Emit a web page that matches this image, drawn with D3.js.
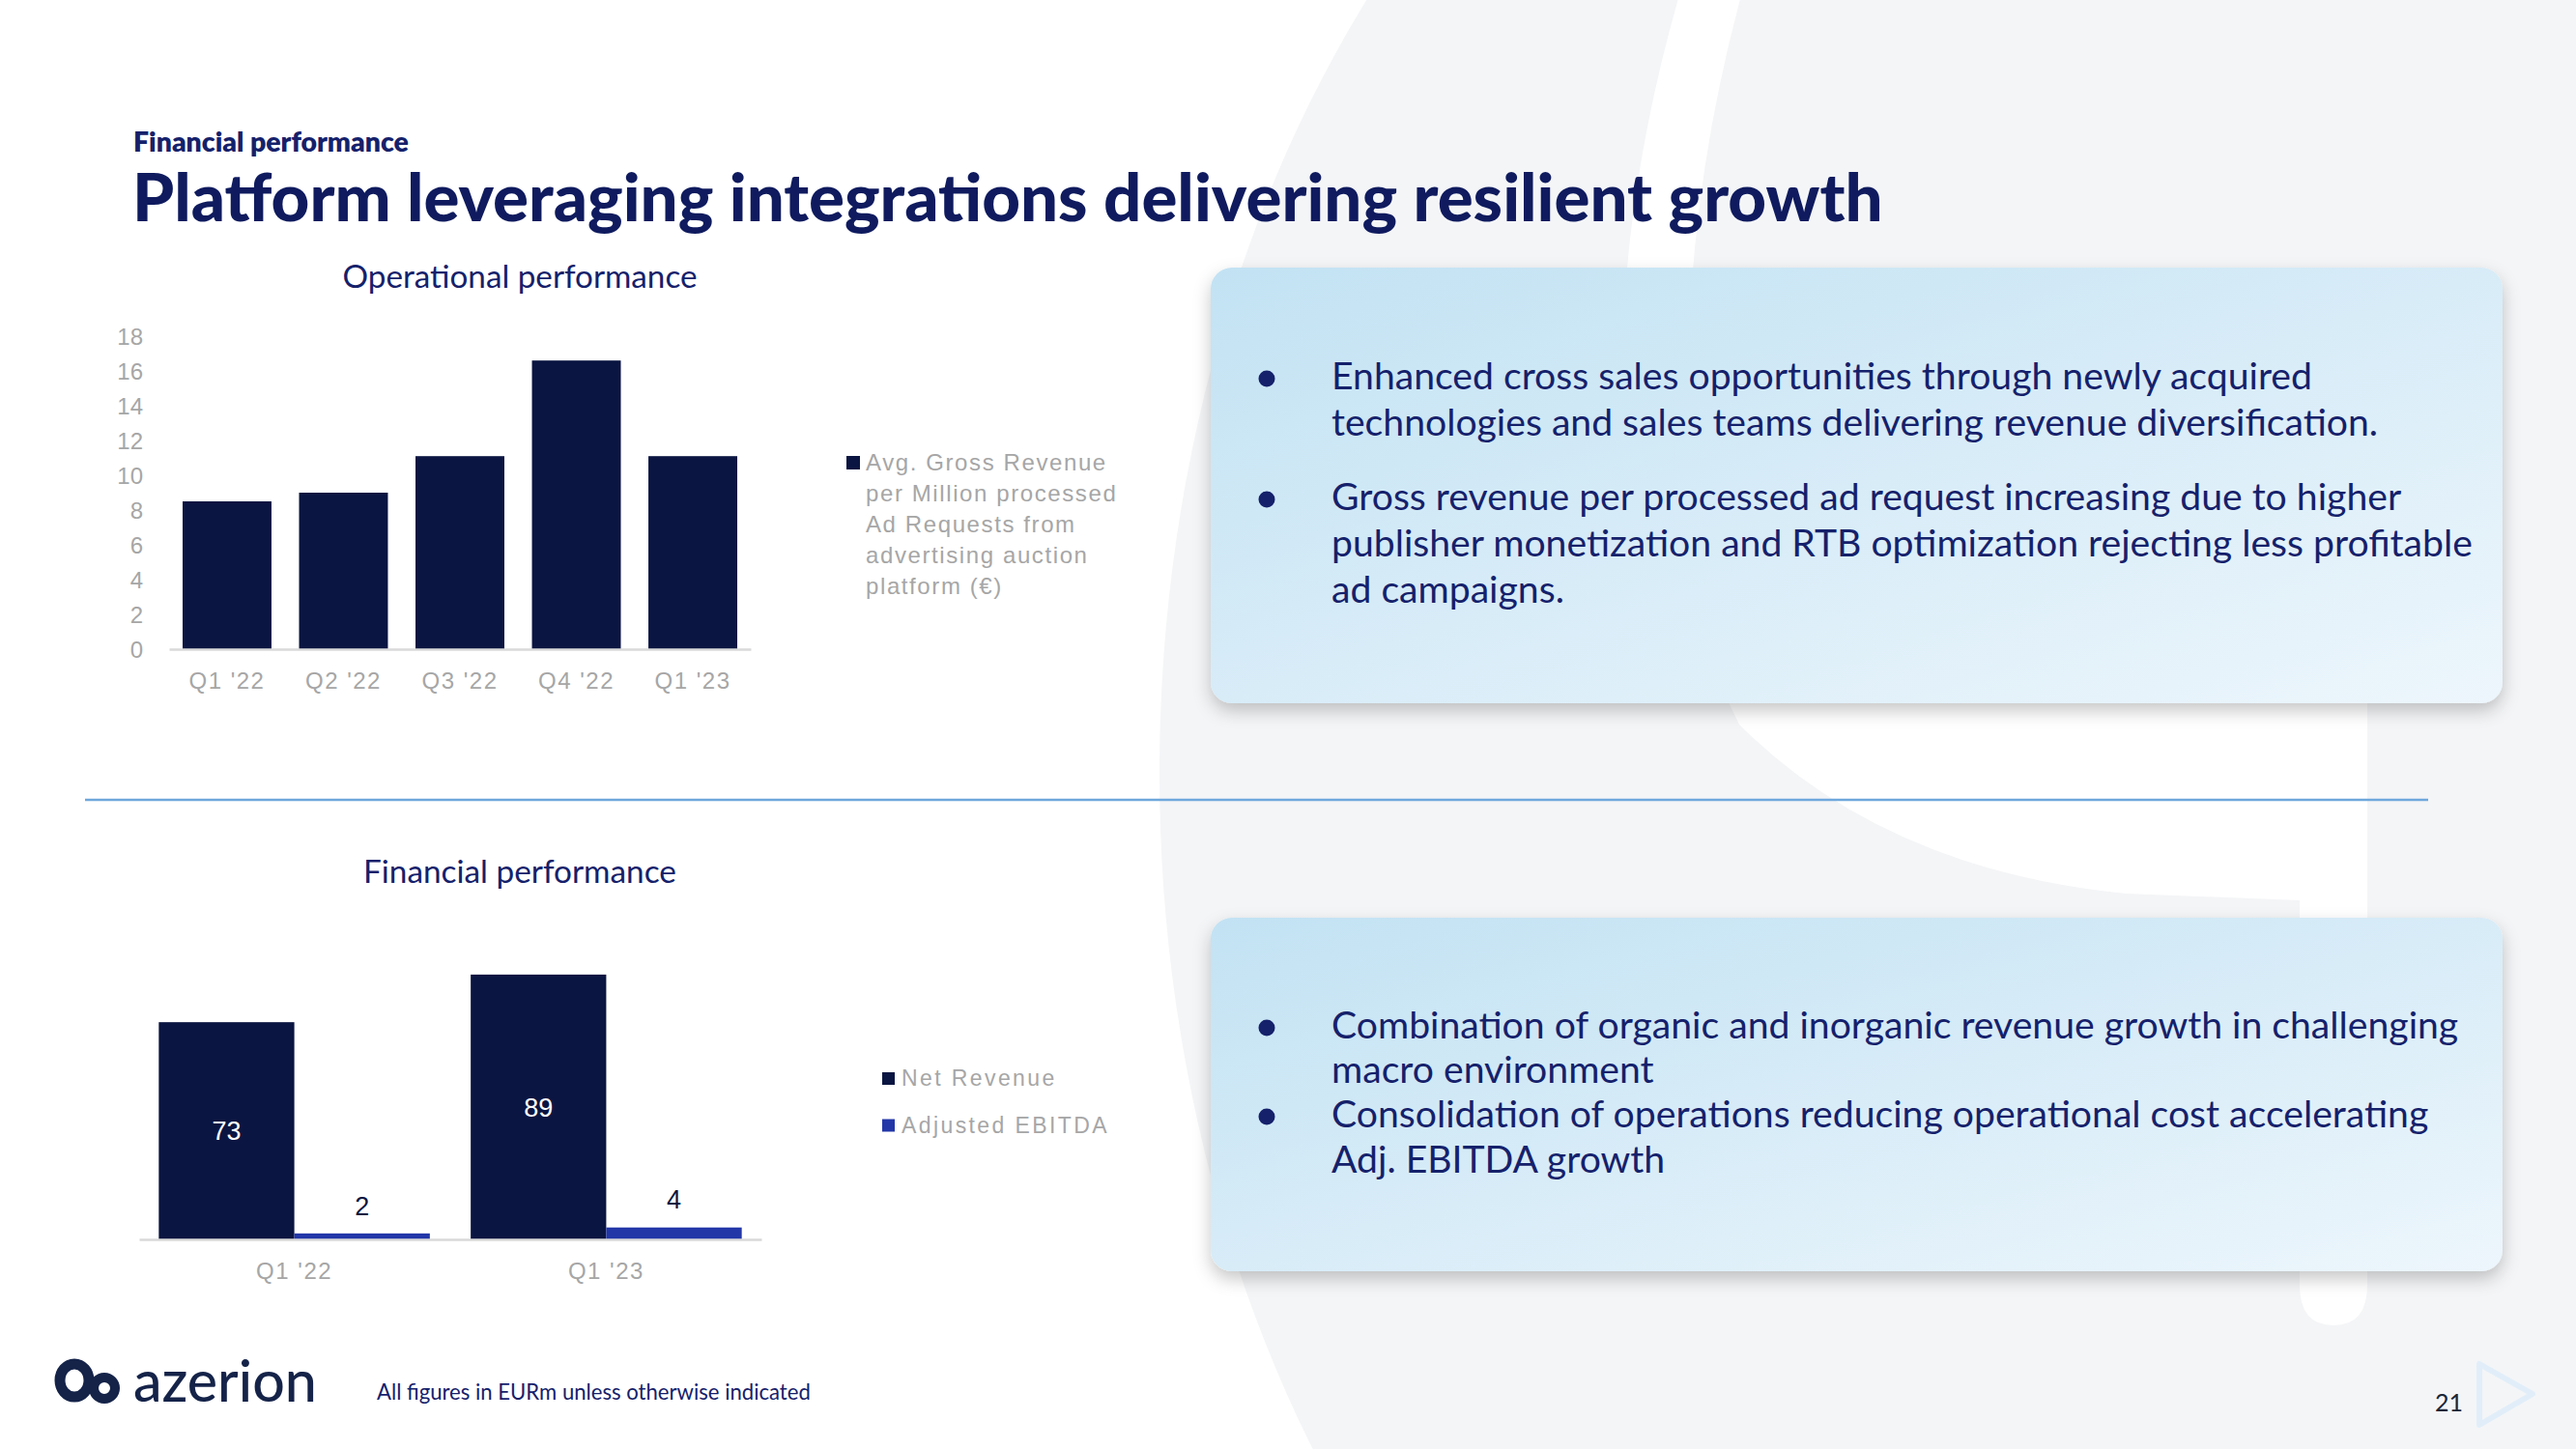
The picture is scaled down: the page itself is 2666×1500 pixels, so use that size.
<!DOCTYPE html>
<html><head><meta charset="utf-8">
<script src="https://cdn.jsdelivr.net/npm/d3@7"></script>
<style>
html,body{margin:0;padding:0;background:#fff;overflow:hidden;}
svg{display:block;}
</style></head><body>
<svg id="slide" width="2666" height="1500"></svg>
<script>
// ---------- data ----------
const opCategories = ["Q1 '22", "Q2 '22", "Q3 '22", "Q4 '22", "Q1 '23"];
const opValues = [8.5, 9.0, 11.1, 16.6, 11.1];
const opTicks = [0, 2, 4, 6, 8, 10, 12, 14, 16, 18];
const opLegendLines = ["Avg. Gross Revenue", "per Million processed", "Ad Requests from", "advertising auction", "platform (€)"];

const finCategories = ["Q1 '22", "Q1 '23"];
const finSeries = ["Net Revenue", "Adjusted EBITDA"];
const netRevenue = [73, 89];
const adjEbitda = [2, 4];

const box1Bullets = [
  ["Enhanced cross sales opportunities through newly acquired",
   "technologies and sales teams delivering revenue diversification."],
  ["Gross revenue per processed ad request increasing due to higher",
   "publisher monetization and RTB optimization rejecting less profitable",
   "ad campaigns."]
];
const box2Bullets = [
  ["Combination of organic and inorganic revenue growth in challenging",
   "macro environment"],
  ["Consolidation of operations reducing operational cost accelerating",
   "Adj. EBITDA growth"]
];

// ---------- styles ----------
const NAVY = "#0b1541", BLUE = "#2236a8", TEXTNAVY = "#15216b", GRAY = "#a6a6a6";
const SLIDEFONT = "Lato, 'Open Sans', sans-serif";
const CHARTFONT = "'Liberation Sans', Arial, sans-serif";

const svg = d3.select("#slide");

function fitWidth(sel, w) {
  const fs = parseFloat(sel.attr("font-size"));
  const cw = sel.node().getComputedTextLength();
  sel.attr("font-size", fs * w / cw);
  return fs * w / cw;
}

// ---------- background ----------
const defs = svg.append("defs");
const grad = defs.append("linearGradient").attr("id", "boxgrad")
  .attr("x1", 0).attr("y1", 0).attr("x2", 1).attr("y2", 1);
grad.append("stop").attr("offset", "0%").attr("stop-color", "#c2e2f3");
grad.append("stop").attr("offset", "100%").attr("stop-color", "#edf6fc");
const flt = defs.append("filter").attr("id", "shadow")
  .attr("x", "-10%").attr("y", "-20%").attr("width", "120%").attr("height", "140%");
flt.append("feDropShadow").attr("dx", 0).attr("dy", 8).attr("stdDeviation", 9)
  .attr("flood-color", "#000").attr("flood-opacity", 0.22);

const bg = svg.append("g");
bg.append("ellipse").attr("cx", 2125).attr("cy", 800).attr("rx", 925).attr("ry", 1250).attr("fill", "#f4f5f7");
bg.append("path").attr("d", "M1738,-5 L1802,-5 Q1720,300 1760,600 L1690,600 Q1650,300 1738,-5 Z").attr("fill", "#fff");
bg.append("path").attr("d", "M1690,520 L1800,750 Q1950,900 2200,925 L2380,932 L2380,1330 Q2380,1372 2415,1372 Q2450,1372 2450,1330 L2450,520 Z").attr("fill", "#fff");

// ---------- header ----------
const hdr = svg.append("text").attr("x", 138).attr("y", 157)
  .attr("font-family", SLIDEFONT).attr("font-weight", 800).attr("font-size", 25)
  .attr("fill", TEXTNAVY).text("Financial performance");
fitWidth(hdr, 285);
const ttl = svg.append("text").attr("x", 137).attr("y", 229)
  .attr("font-family", SLIDEFONT).attr("font-weight", 900).attr("font-size", 60)
  .attr("fill", "#0f1b5e").text("Platform leveraging integrations delivering resilient growth");
fitWidth(ttl, 1812);

// divider
svg.append("line").attr("x1", 88).attr("x2", 2513).attr("y1", 828).attr("y2", 828)
  .attr("stroke", "#6fa7dc").attr("stroke-width", 2.5);

// ---------- operational chart ----------
const opT = svg.append("text").attr("x", 538).attr("y", 298).attr("text-anchor", "middle")
  .attr("font-family", SLIDEFONT).attr("font-size", 30).attr("fill", TEXTNAVY)
  .text("Operational performance");
fitWidth(opT, 367);

const xOp = d3.scaleBand().domain(opCategories).range([175, 777]).paddingInner(0.237).paddingOuter(0.116);
const yOp = d3.scaleLinear().domain([0, 18]).range([672, 348]);

svg.append("g").selectAll("rect").data(opValues).join("rect")
  .attr("x", (d, i) => xOp(opCategories[i])).attr("width", xOp.bandwidth())
  .attr("y", d => yOp(d)).attr("height", d => yOp(0) - yOp(d)).attr("fill", NAVY);

const yAxisOp = svg.append("g").attr("transform", "translate(148,0)")
  .call(d3.axisLeft(yOp).tickValues(opTicks).tickSize(0).tickPadding(0));
yAxisOp.select(".domain").remove();
yAxisOp.selectAll("text").attr("font-family", CHARTFONT).attr("font-size", 24)
  .attr("fill", GRAY).attr("dy", "0.36em");

const xAxisOp = svg.append("g").attr("transform", `translate(0,${yOp(0)})`)
  .call(d3.axisBottom(xOp).tickSize(0).tickPadding(0));
xAxisOp.select(".domain").attr("stroke", "#d9d9d9").attr("stroke-width", 2.5);
xAxisOp.selectAll("text").attr("font-family", CHARTFONT).attr("font-size", 24)
  .attr("fill", GRAY).attr("letter-spacing", 1.5).attr("dy", "0").attr("y", 41);

// legend
svg.append("rect").attr("x", 876).attr("y", 472).attr("width", 14).attr("height", 14).attr("fill", NAVY);
svg.append("g").selectAll("text").data(opLegendLines).join("text")
  .attr("x", 896).attr("y", (d, i) => 487 + i * 32)
  .attr("font-family", CHARTFONT).attr("font-size", 24).attr("letter-spacing", 1.6)
  .attr("fill", GRAY).text(d => d);

// ---------- financial chart ----------
const finT = svg.append("text").attr("x", 538).attr("y", 914).attr("text-anchor", "middle")
  .attr("font-family", SLIDEFONT).attr("font-size", 30).attr("fill", TEXTNAVY)
  .text("Financial performance");
fitWidth(finT, 324);

const xFin = d3.scaleBand().domain(finCategories).range([144, 788]).paddingInner(0.131).paddingOuter(0.063);
const xSub = d3.scaleBand().domain(finSeries).range([0, xFin.bandwidth()]).padding(0);
const yFin = d3.scaleLinear().domain([0, 100]).range([1283, 975]);

const finData = finCategories.map((c, i) => [
  { cat: c, s: finSeries[0], v: netRevenue[i] },
  { cat: c, s: finSeries[1], v: adjEbitda[i] }
]).flat();
const finColor = d3.scaleOrdinal().domain(finSeries).range([NAVY, BLUE]);

svg.append("g").selectAll("rect").data(finData).join("rect")
  .attr("x", d => xFin(d.cat) + xSub(d.s)).attr("width", xSub.bandwidth())
  .attr("y", d => yFin(d.v)).attr("height", d => yFin(0) - yFin(d.v))
  .attr("fill", d => finColor(d.s));

svg.append("g").selectAll("text").data(finData).join("text")
  .attr("x", d => xFin(d.cat) + xSub(d.s) + xSub.bandwidth() / 2)
  .attr("y", d => d.s === finSeries[0] ? (yFin(d.v) + yFin(0)) / 2 : yFin(d.v) - 29)
  .attr("dy", "0.36em").attr("text-anchor", "middle")
  .attr("font-family", CHARTFONT).attr("font-size", 27)
  .attr("fill", d => d.s === finSeries[0] ? "#ffffff" : NAVY)
  .text(d => d3.format("d")(d.v));

const xAxisFin = svg.append("g").attr("transform", `translate(0,${yFin(0)})`)
  .call(d3.axisBottom(xFin).tickSize(0).tickPadding(0));
xAxisFin.select(".domain").attr("stroke", "#d9d9d9").attr("stroke-width", 2.5);
xAxisFin.selectAll("text").attr("font-family", CHARTFONT).attr("font-size", 24)
  .attr("fill", GRAY).attr("letter-spacing", 1.5).attr("dy", "0").attr("y", 41);

const finLeg = svg.append("g").selectAll("g").data(finSeries).join("g")
  .attr("transform", (d, i) => `translate(913,${1110 + i * 48.5})`);
finLeg.append("rect").attr("width", 13).attr("height", 13).attr("fill", d => finColor(d));
finLeg.append("text").attr("x", 20).attr("y", 14).attr("font-family", CHARTFONT)
  .attr("font-size", 23).attr("letter-spacing", 2.4).attr("fill", GRAY).text(d => d);

// ---------- right boxes ----------
function drawBox(y0, h) {
  svg.append("rect").attr("x", 1253).attr("y", y0).attr("width", 1337).attr("height", h)
    .attr("rx", 22).attr("fill", "url(#boxgrad)").attr("filter", "url(#shadow)");
}
drawBox(277, 451);
drawBox(950, 366);

const bodyTexts = [];
function drawBullets(bullets, baselines) {
  let k = 0;
  bullets.forEach(lines => {
    svg.append("circle").attr("cx", 1311).attr("cy", baselines[k] - 11).attr("r", 8.5).attr("fill", TEXTNAVY);
    lines.forEach(l => {
      const t = svg.append("text").attr("x", 1378).attr("y", baselines[k])
        .attr("font-family", SLIDEFONT).attr("font-size", 34).attr("fill", TEXTNAVY).text(l);
      bodyTexts.push(t);
      k++;
    });
  });
}
drawBullets(box1Bullets, [403, 451, 528, 576, 624]);
drawBullets(box2Bullets, [1075, 1121, 1167, 1214]);
// common font size from reference line widths
const w1 = bodyTexts[0].node().getComputedTextLength();
const w2 = bodyTexts[5].node().getComputedTextLength();
const fsBody = 34 * ((1016 / w1) + (1166 / w2)) / 2;
bodyTexts.forEach(t => t.attr("font-size", fsBody));

// ---------- footer ----------
const logo = svg.append("g").attr("fill", "none").attr("stroke", "#152349");
logo.append("ellipse").attr("cx", 77).attr("cy", 1429).attr("rx", 15).attr("ry", 17).attr("stroke-width", 11);
logo.append("ellipse").attr("cx", 108).attr("cy", 1437).attr("rx", 11).attr("ry", 11).attr("stroke-width", 10);
const logoT = svg.append("text").attr("x", 138).attr("y", 1451)
  .attr("font-family", SLIDEFONT).attr("font-weight", 500).attr("font-size", 50)
  .attr("fill", "#152349").text("azerion");
fitWidth(logoT, 190);

const foot = svg.append("text").attr("x", 390).attr("y", 1449)
  .attr("font-family", SLIDEFONT).attr("font-size", 20).attr("fill", TEXTNAVY)
  .text("All figures in EURm unless otherwise indicated");
fitWidth(foot, 449);

svg.append("path").attr("d", "M2566,1412 L2566,1475 L2621,1443 Z")
  .attr("fill", "none").attr("stroke", "#e1eef9").attr("stroke-width", 6).attr("stroke-linejoin", "round");
svg.append("text").attr("x", 2549).attr("y", 1461).attr("text-anchor", "end")
  .attr("font-family", SLIDEFONT).attr("font-size", 25).attr("fill", "#1a2638").text("21");
</script>
</body></html>
